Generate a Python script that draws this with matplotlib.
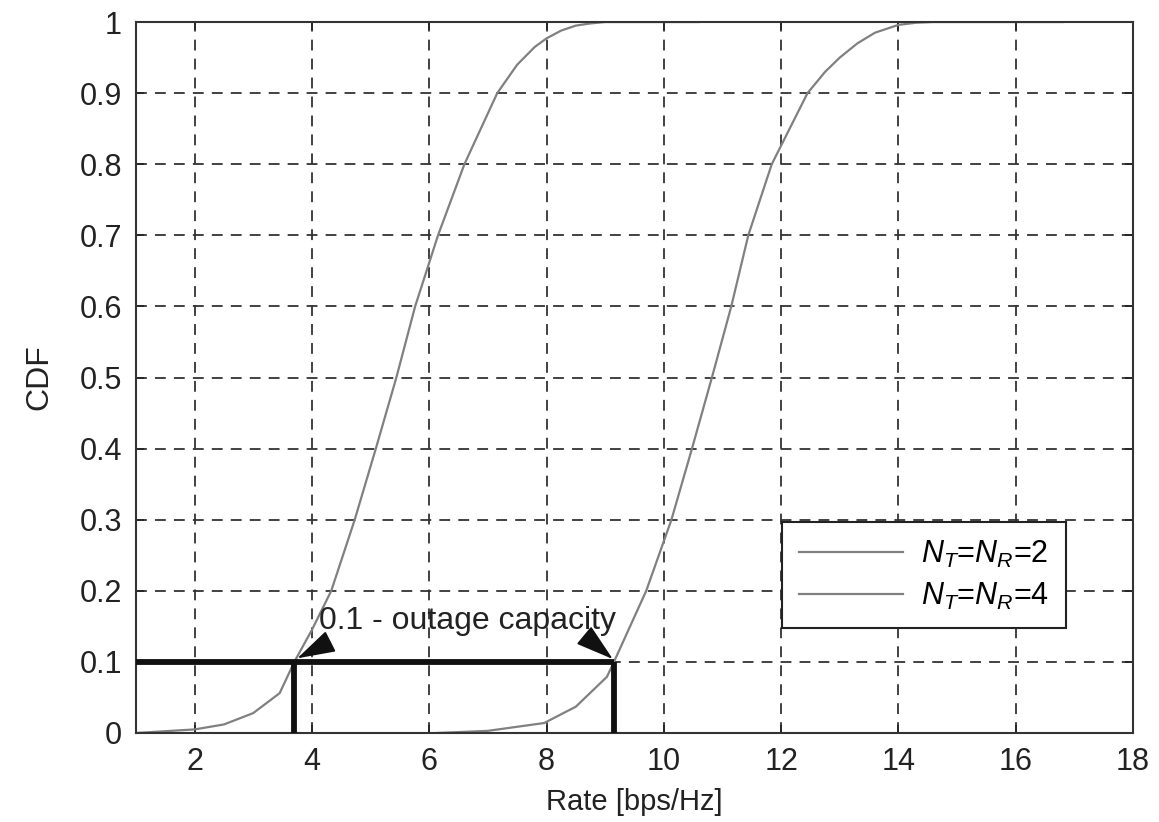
import numpy as np
import matplotlib
matplotlib.use("Agg")
import matplotlib.pyplot as plt

plt.rcParams["font.family"] = ["Liberation Sans", "DejaVu Sans"]
plt.rcParams["mathtext.fontset"] = "custom"
plt.rcParams["mathtext.it"] = "Liberation Sans:italic"
plt.rcParams["mathtext.rm"] = "Liberation Sans"

# CDF curves
rate_2x2 = [1.0, 2.0, 2.5, 3.0, 3.45, 3.7, 4.0, 4.33, 4.73, 5.09, 5.44, 5.76,
            6.15, 6.6, 7.16, 7.5, 7.8, 8.0, 8.25, 8.5, 8.75, 9.0, 10.6]
cdf_2x2 = [0.0, 0.005, 0.012, 0.028, 0.056, 0.1, 0.145, 0.2, 0.3, 0.4, 0.5, 0.6,
           0.7, 0.8, 0.9, 0.94, 0.965, 0.977, 0.988, 0.995, 0.998, 1.0, 1.0]

rate_4x4 = [6.13, 7.0, 7.96, 8.5, 9.03, 9.15, 9.7, 10.13, 10.48, 10.82, 11.15,
            11.44, 11.84, 12.45, 12.75, 13.0, 13.3, 13.6, 14.0, 14.3, 14.6, 16.8]
cdf_4x4 = [0.0, 0.003, 0.014, 0.037, 0.079, 0.1, 0.2, 0.3, 0.4, 0.5, 0.6,
           0.7, 0.8, 0.9, 0.93, 0.95, 0.97, 0.985, 0.996, 0.999, 1.0, 1.0]

labels = [r"$N_T$=$N_R$=2", r"$N_T$=$N_R$=4"]

outage_level = 0.1
outage_2x2 = 3.7
outage_4x4 = 9.15
outage_text = "0.1 - outage capacity"

xticks = [2, 4, 6, 8, 10, 12, 14, 16, 18]
yticks = [0, 0.1, 0.2, 0.3, 0.4, 0.5, 0.6, 0.7, 0.8, 0.9, 1]
yticklabels = ["0", "0.1", "0.2", "0.3", "0.4", "0.5", "0.6", "0.7", "0.8", "0.9", "1"]

fig = plt.figure(figsize=(11.59, 8.22), dpi=100)
ax = fig.add_axes([0.1173, 0.1083, 0.8603, 0.8649])

curve_color = "#808080"
ax.plot(rate_2x2, cdf_2x2, color=curve_color, lw=1.6, label=labels[0])
ax.plot(rate_4x4, cdf_4x4, color=curve_color, lw=1.6, label=labels[1])

# outage capacity markers
ax.plot([1, outage_4x4], [outage_level, outage_level], color="#111111", lw=4.2,
        solid_capstyle="butt", zorder=4)
ax.plot([outage_2x2, outage_2x2], [0, outage_level], color="#111111", lw=4.2,
        solid_capstyle="butt", zorder=4)
ax.plot([outage_4x4, outage_4x4], [0, outage_level], color="#111111", lw=4.2,
        solid_capstyle="butt", zorder=4)

ax.text(4.12, 0.158, outage_text, fontsize=23, color="#222222",
        ha="left", va="center", zorder=5)
arrow = dict(arrowstyle="-|>,head_length=1.0,head_width=0.3", color="#111111",
             lw=1.3, shrinkA=0, shrinkB=0, mutation_scale=24)
ax.annotate("", xy=(outage_2x2 + 0.05, outage_level + 0.005), xytext=(4.3, 0.128),
            arrowprops=arrow, zorder=6)
ax.annotate("", xy=(outage_4x4 - 0.02, outage_level + 0.004), xytext=(8.72, 0.132),
            arrowprops=arrow, zorder=6)

ax.set_xlim(1, 18)
ax.set_ylim(0, 1)
ax.set_xticks(xticks)
ax.set_yticks(yticks)
ax.set_yticklabels(yticklabels)
ax.tick_params(direction="in", length=6, width=1.2, top=True, right=True,
               labelsize=22, colors="#222222", pad=10)
ax.grid(True, color="#333333", linestyle=(0, (6, 4.5)), lw=1.3)
for s in ax.spines.values():
    s.set_linewidth(1.5)
    s.set_color("#333333")

ax.set_xlabel("Rate [bps/Hz]", fontsize=21, color="#222222", labelpad=8)
ax.set_ylabel("CDF", fontsize=23, color="#222222", labelpad=18)

leg = ax.legend(loc="upper left", bbox_to_anchor=(0.648, 0.297), fontsize=22,
                handlelength=3.4, handletextpad=0.6, borderpad=0.55,
                labelspacing=0.35, fancybox=False, framealpha=1, borderaxespad=0)
leg.get_frame().set_edgecolor("#222222")
leg.get_frame().set_linewidth(1.5)
leg.set_zorder(7)

fig.savefig("out.png", dpi=100)
